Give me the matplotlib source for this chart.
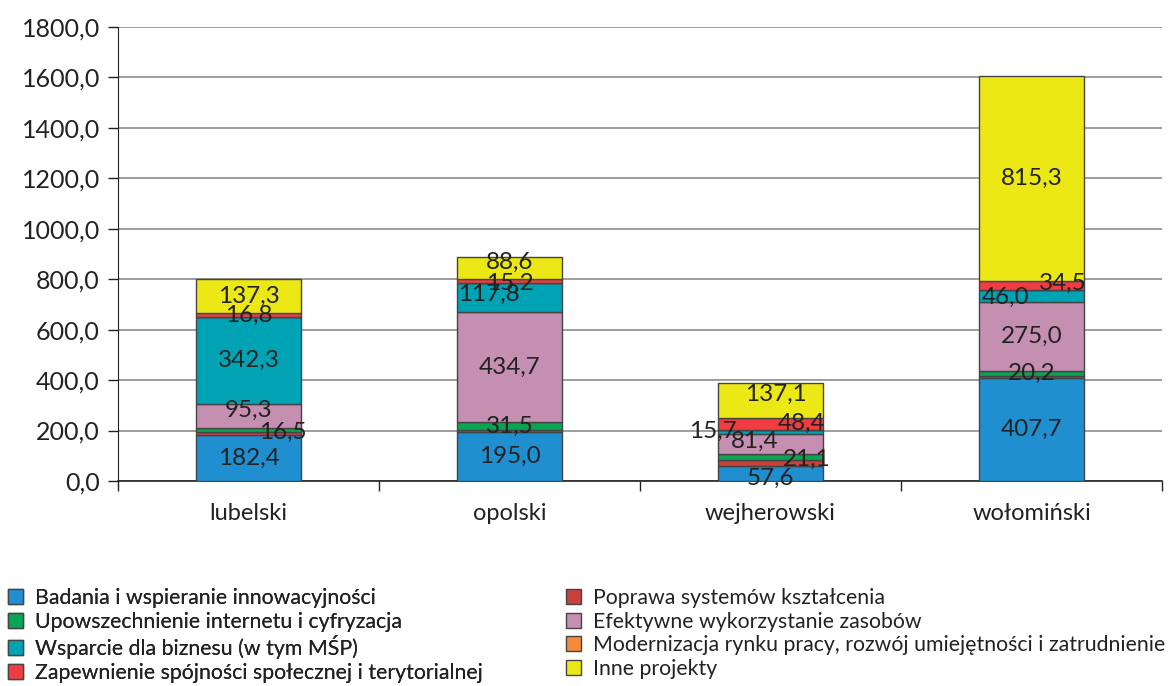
import numpy as np
import matplotlib.pyplot as plt
from matplotlib.ticker import FuncFormatter, FixedLocator
from matplotlib.patches import Patch

plt.rcParams['font.family'] = ['Lato', 'DejaVu Sans']

regions = ['lubelski', 'opolski', 'wejherowski', 'wołomiński']

series_names = [
    'Badania i wspieranie innowacyjności',
    'Poprawa systemów kształcenia',
    'Upowszechnienie internetu i cyfryzacja',
    'Efektywne wykorzystanie zasobów',
    'Wsparcie dla biznesu (w tym MŚP)',
    'Modernizacja rynku pracy, rozwój umiejętności i zatrudnienie',
    'Zapewnienie spójności społecznej i terytorialnej',
    'Inne projekty',
]

badania = [182.4, 195.0, 57.6, 407.7]
poprawa = [12.0, 7.0, 27.0, 8.0]
internet = [16.5, 31.5, 21.1, 20.2]
zasoby = [95.3, 434.7, 81.4, 275.0]
biznes = [342.3, 117.8, 15.7, 46.0]
rynek_pracy = [0.0, 0.0, 0.0, 0.0]
spojnosc = [16.8, 15.2, 48.4, 34.5]
inne = [137.3, 88.6, 137.1, 815.3]

values = [badania, poprawa, internet, zasoby, biznes, rynek_pracy, spojnosc, inne]
colors = ['#1f8fd0', '#c8413d', '#0aa552', '#c58fb2', '#00a3b3', '#f58a3d', '#f03c42', '#ece816']
show_labels = [True, False, True, True, True, False, True, True]

# label nudges (series index, region index) -> (dx in bar units, dy in points)
nudge = {
    (2, 0): (0.13, -2), (3, 0): (0.0, 4),
    (4, 2): (-0.22, 0), (6, 2): (0.12, 0), (3, 2): (-0.06, 2), (2, 2): (0.14, -2),
    (0, 2): (0.0, -3), (7, 2): (0.02, 4),
    (6, 3): (0.12, 2), (4, 3): (-0.1, -1),
    (6, 1): (0.0, -2), (7, 1): (0.0, 4), (4, 1): (-0.08, 2),
}

fig = plt.figure(figsize=(11.7, 6.86), dpi=100)
ax = fig.add_axes([118 / 1170, 1 - 481 / 686, (1162 - 118) / 1170, (481 - 27) / 686])

x = np.arange(len(regions))
bottom = np.zeros(len(regions))
for si, (vals, col, lab) in enumerate(zip(values, colors, show_labels)):
    vals = np.array(vals)
    ax.bar(x, vals, width=0.4, bottom=bottom, color=col, edgecolor='#444444',
           linewidth=1, zorder=3)
    if lab:
        for xi, b, v in zip(x, bottom, vals):
            dx, dy = nudge.get((si, xi), (0.0, 0))
            ax.annotate(f'{v:.1f}'.replace('.', ','), (xi + dx, b + v / 2),
                        xytext=(0, dy), textcoords='offset points',
                        ha='center', va='center', fontsize=17.5,
                        color='#222222', zorder=5)
    bottom += vals

ax.set_xlim(-0.5, 3.5)
ax.set_ylim(0, 1800)
ax.set_yticks(np.arange(0, 1801, 200))
ax.yaxis.set_major_formatter(FuncFormatter(lambda v, p: f'{v:.1f}'.replace('.', ',')))
ax.yaxis.grid(True, color='#8c8c8c', linewidth=1.2, zorder=0)
ax.set_axisbelow(True)

ax.set_xticks(x)
ax.set_xticklabels(regions)
ax.xaxis.set_minor_locator(FixedLocator(np.arange(-0.5, 3.6, 1)))
ax.tick_params(axis='x', which='major', length=0, pad=16, labelsize=17, colors='#222222')
ax.tick_params(axis='x', which='minor', length=7, width=1, color='#222222')
ax.tick_params(axis='y', length=7, width=1, labelsize=18, colors='#222222', pad=6)

for s in ['top', 'right']:
    ax.spines[s].set_visible(False)
ax.spines['left'].set_color('#222222')
ax.spines['bottom'].set_color('#222222')
ax.spines['bottom'].set_linewidth(1.2)

handles = [Patch(facecolor=c, edgecolor='#444444', linewidth=1) for c in colors]
leg_kw = dict(loc='upper left', frameon=False, fontsize=15.3,
              handlelength=0.72, handleheight=0.72, handletextpad=0.55,
              labelspacing=0.17, borderaxespad=0.0, borderpad=0.0,
              labelcolor='#222222')
col1 = [0, 2, 4, 6]
col2 = [1, 3, 5, 7]
leg1 = fig.legend([handles[i] for i in col1], [series_names[i] for i in col1],
                  bbox_to_anchor=(8 / 1170, 1 - 588 / 686), **leg_kw)
fig.add_artist(leg1)
fig.legend([handles[i] for i in col2], [series_names[i] for i in col2],
           bbox_to_anchor=(566 / 1170, 1 - 588 / 686), **leg_kw)

fig.savefig('out.png', dpi=100)
